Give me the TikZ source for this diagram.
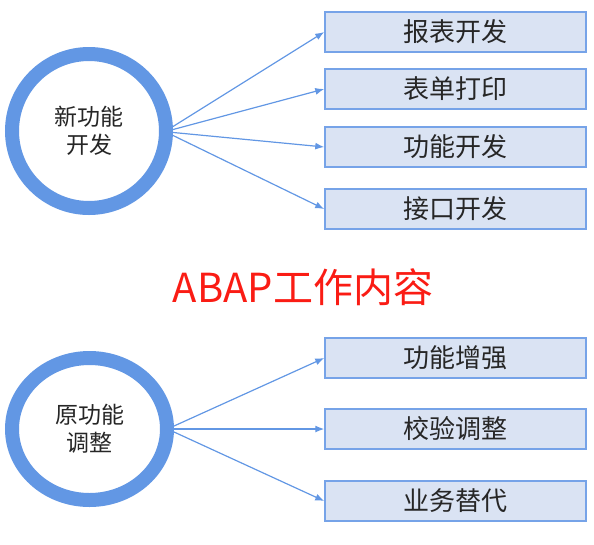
\documentclass[tikz,border=0pt]{standalone}
\usepackage{fontspec}
\setmainfont{Noto Sans CJK SC}
\usetikzlibrary{arrows.meta,shapes.geometric}
\definecolor{ringblue}{RGB}{98,151,228}
\definecolor{boxfill}{RGB}{218,227,243}
\definecolor{boxline}{RGB}{118,163,232}
\definecolor{textgray}{RGB}{38,38,38}
\definecolor{titlered}{RGB}{250,28,20}
\tikzset{
  ring/.style={circle, draw=ringblue, line width=14pt, fill=white, align=center,
    text=textgray, font=\fontsize{23}{28}\selectfont},
  ringoval/.style={ellipse, draw=ringblue, line width=14pt, fill=white, align=center,
    text=textgray, font=\fontsize{23}{28}\selectfont},
  itembox/.style={rectangle, draw=boxline, fill=boxfill, line width=1.5pt,
    minimum width=261pt, minimum height=40pt, inner sep=0pt,
    text=textgray, font=\fontsize{26}{30}\selectfont},
  link/.style={draw=ringblue, line width=1.2pt, -{Latex[length=9pt,width=7pt]}},
  headline/.style={text=titlered, font=\fontsize{40}{44}\selectfont}
}
\begin{document}
\begin{tikzpicture}[x=1pt,y=-1pt]
\useasboundingbox (0,0) rectangle (594,544);
\node[ring, minimum size=154pt, inner sep=0pt] (n1) at (89,131) {新功能\\开发};
\node[itembox] (b1) at (455.5,32) {报表开发};
\node[itembox] (b2) at (455.5,89) {表单打印};
\node[itembox] (b3) at (455.5,147) {功能开发};
\node[itembox] (b4) at (455.5,209) {接口开发};
\draw[link] (n1.3) -- (b1.west);
\draw[link] (n1.1) -- (b2.west);
\draw[link] (n1.-1) -- (b3.west);
\draw[link] (n1.-3) -- (b4.west);

\node[headline] (title) at (303,287) {ABAP工作内容};

\node[ringoval, minimum width=155pt, minimum height=142pt, inner sep=0pt] (n2) at (89.5,429) {原功能\\调整};
\node[itembox] (c1) at (455.5,358) {功能增强};
\node[itembox] (c2) at (455.5,429) {校验调整};
\node[itembox] (c3) at (455.5,501) {业务替代};
\draw[link] (n2.2) -- (c1.west);
\draw[link] (n2.0) -- (c2.west);
\draw[link] (n2.-2) -- (c3.west);
\end{tikzpicture}
\end{document}
